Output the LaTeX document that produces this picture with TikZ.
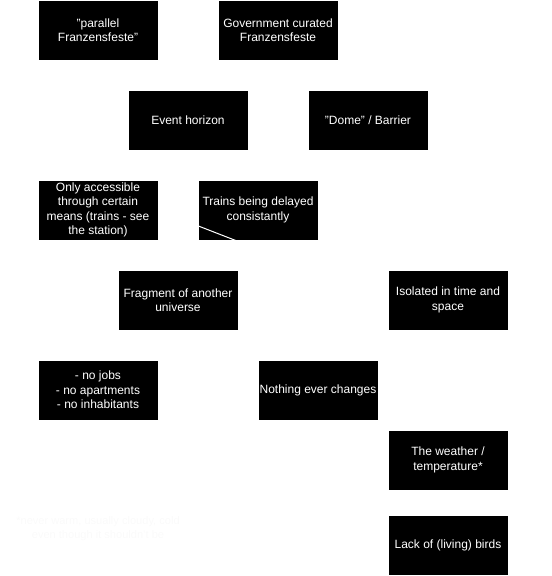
\documentclass[tikz,border=0pt]{standalone}
\usepackage{fontspec}
\setmainfont{Liberation Sans}
\begin{document}
\begin{tikzpicture}[x=0.75pt,y=-0.75pt,
  box/.style={fill=black, draw=black, minimum width=88.5pt, minimum height=43.5pt,
    inner sep=0pt, text=white, font=\fontsize{9}{10.8}\selectfont, align=center},
  link/.style={draw=white, line width=0.75pt, shorten <=1.5pt},
  faint/.style={text=black!2, font=\fontsize{8.3}{10.5}\selectfont, align=center, inner sep=0pt}]
\useasboundingbox (0,0) rectangle (551,576);
\node[box] (pf) at (98,30) {"parallel\\Franzensfeste"};
\node[box] (gov) at (278,30) {Government curated\\Franzensfeste};
\node[box] (eh) at (188,120) {Event horizon};
\node[box] (dome) at (368,120) {"Dome" / Barrier};
\node[box] (acc) at (98,210) {Only accessible\\through certain\\means (trains - see\\the station)};
\node[box] (trains) at (258,210) {Trains being delayed\\consistantly};
\node[box] (frag) at (178,300) {Fragment of another\\universe};
\node[box] (iso) at (448,300) {Isolated in time and\\space};
\node[box] (jobs) at (98,390) {- no jobs\\- no apartments\\- no inhabitants};
\node[box] (nothing) at (318,390) {Nothing ever changes};
\node[box] (weather) at (448,460) {The weather /\\temperature*};
\node[box] (birds) at (448,545) {Lack of (living) birds};
\node[faint] (note) at (98,529) {*never warm, usually cloudy, cold\\even though it shouldn't be};
\draw[link] (acc.east) -- (iso.west);
\end{tikzpicture}
\end{document}
